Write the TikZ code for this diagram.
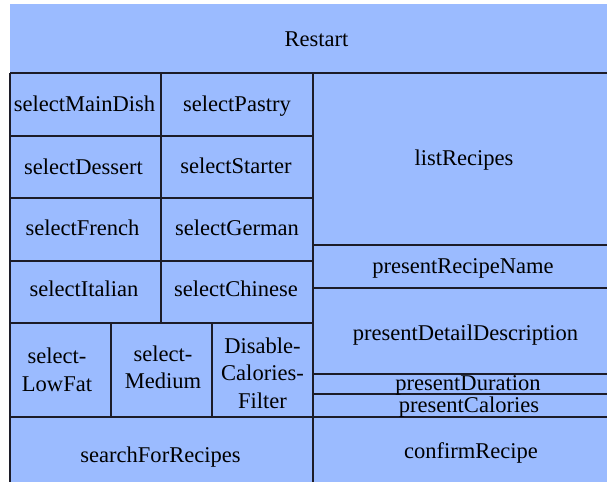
\documentclass[tikz,border=0pt]{standalone}
\usepackage{fontspec}
\setmainfont{Liberation Serif}
\usepackage{tikz}
\definecolor{cellblue}{HTML}{9BBBFF}
\definecolor{gridline}{HTML}{1C1C28}
\newcommand{\cellfont}{\fontsize{16.9}{20.6}\selectfont}
\tikzset{%
    grid/.style={draw=gridline, line width=0.9pt},
    lbl/.style={font=\cellfont, inner sep=0pt, anchor=base},
    lbls/.style={font=\cellfont, inner sep=0pt, align=center}
}

\begin{document}
\begin{tikzpicture}[x=0.75pt,y=-0.75pt]
        \useasboundingbox (0,0) rectangle (607,482);
        \clip (0,0) rectangle (607,482);
        \fill[color=cellblue] (10,4) rectangle (620,490);

        % frame lines
        \draw[grid] (10,73) -- (620,73);
        \draw[grid] (10,73) -- (10,490);
        \draw[grid] (161,73) -- (161,323);
        \draw[grid] (313,73) -- (313,490);
        \foreach \y in {136,198,261,323}
            \draw[grid] (10,\y) -- (313,\y);
        \draw[grid] (10,417) -- (620,417);
        \draw[grid] (111,323) -- (111,417);
        \draw[grid] (212,323) -- (212,417);
        \foreach \y in {245,288,374,394}
            \draw[grid] (313,\y) -- (620,\y);

        \node[lbl] (restart) at (316.5,46) {Restart};

        \node[lbl] (maindish) at (84.5,111) {selectMainDish};
        \node[lbl] (pastry) at (237,111) {selectPastry};
        \node[lbl] (dessert) at (83.5,174) {selectDessert};
        \node[lbl] (starter) at (236,173) {selectStarter};
        \node[lbl] (french) at (82.5,235) {selectFrench};
        \node[lbl] (german) at (237,235) {selectGerman};
        \node[lbl] (italian) at (84,296) {selectItalian};
        \node[lbl] (chinese) at (236,296) {selectChinese};

        \node[lbls] (lowfat) at (57,370) {select-\\LowFat};
        \node[lbls] (medium) at (163,367.5) {select-\\Medium};
        \node[lbls] (nofilter) at (262.5,373) {Disable-\\Calories-\\Filter};
        \node[lbl] (search) at (160.5,462) {searchForRecipes};

        \node[lbl] (list) at (464,165) {listRecipes};
        \node[lbl] (name) at (463,273) {presentRecipeName};
        \node[lbl] (detail) at (465.5,340) {presentDetailDescription};
        \node[lbl] (duration) at (468,390) {presentDuration};
        \node[lbl] (calories) at (469,412) {presentCalories};
        \node[lbl] (confirm) at (471,458) {confirmRecipe};
    \end{tikzpicture}
\end{document}
